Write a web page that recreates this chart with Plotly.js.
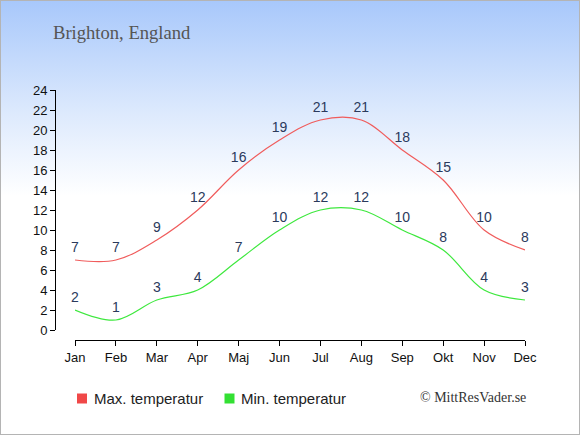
<!DOCTYPE html>
<html>
<head>
<meta charset="utf-8">
<script src="https://cdn.plot.ly/plotly-3.0.1.min.js"></script>
<style>
  html, body { margin: 0; padding: 0; }
  #wrap {
    width: 580px; height: 435px; box-sizing: border-box;
    border: 1px solid #b4b4b4;
    background: linear-gradient(to bottom, #a8c8fb 0px, #dce9fd 110px, #ffffff 195px, #ffffff 435px);
    position: relative; overflow: hidden;
  }
  #chart { position: absolute; left: -1px; top: -1px; width: 580px; height: 435px; }
</style>
</head>
<body>
<div id="wrap"><div id="chart"></div></div>
<script>
const months = ["Jan","Feb","Mar","Apr","Maj","Jun","Jul","Aug","Sep","Okt","Nov","Dec"];
const maxTemp = [7, 7, 9, 12, 16, 19, 21, 21, 18, 15, 10, 8];
const minTemp = [2, 1, 3, 4, 7, 10, 12, 12, 10, 8, 4, 3];
const yTicks = [0,2,4,6,8,10,12,14,16,18,20,22,24];
const titleText = "Brighton, England";
const maxName = "Max. temperatur";
const minName = "Min. temperatur";
const credit = "© MittResVader.se";

const idx = months.map((m, i) => i);
const labelFont = {family: "Liberation Sans, Arial, sans-serif", size: 14, color: "#2b3a5c"};
const hiddenMarker = {size: 5, color: "rgba(0,0,0,0)"};

const traces = [
  {x: idx, y: maxTemp, mode: "lines+markers+text", text: maxTemp.map(String), textposition: "top center",
   textfont: labelFont, cliponaxis: false, marker: hiddenMarker,
   line: {color: "#f05c5c", width: 1.2, shape: "spline"},
   showlegend: false, hoverinfo: "skip"},
  {x: idx, y: minTemp, mode: "lines+markers+text", text: minTemp.map(String), textposition: "top center",
   textfont: labelFont, cliponaxis: false, marker: hiddenMarker,
   line: {color: "#3ee83e", width: 1.2, shape: "spline"},
   showlegend: false, hoverinfo: "skip"}
];

const tickFont = {family: "Liberation Sans, Arial, sans-serif", size: 13, color: "#111"};

const plotL = 55, plotR = 580 - 55, plotT = 90, plotB = 435 - 95;
function px2paperX(px) { return (px - plotL) / (plotR - plotL); }
function px2paperY(py) { return (plotB - py) / (plotB - plotT); }

const layout = {
  width: 580, height: 435,
  margin: {l: plotL, r: 580 - plotR, t: plotT, b: 435 - plotB, pad: 0},
  paper_bgcolor: "rgba(0,0,0,0)",
  plot_bgcolor: "rgba(0,0,0,0)",
  showlegend: false,
  xaxis: {
    domain: [20/470, 1], range: [0, 11], anchor: "free", position: 0,
    tickmode: "array", tickvals: idx, ticktext: months,
    showgrid: false, zeroline: false, showline: true, linecolor: "#000", linewidth: 1,
    ticks: "outside", ticklen: 5, tickcolor: "#000", tickfont: tickFont, fixedrange: true
  },
  yaxis: {
    domain: [10/250, 1], range: [0, 24], anchor: "free", position: 0,
    tickmode: "array", tickvals: yTicks,
    showgrid: false, zeroline: false, showline: true, linecolor: "#000", linewidth: 1,
    ticks: "outside", ticklen: 5, tickcolor: "#000", tickfont: tickFont, fixedrange: true
  },
  annotations: [
    {text: titleText, xref: "paper", yref: "paper", x: px2paperX(51), y: px2paperY(32.5),
     xanchor: "left", yanchor: "middle", showarrow: false,
     font: {family: "Liberation Serif, Times New Roman, serif", size: 18.6, color: "#555"}},
    {text: maxName, xref: "paper", yref: "paper", x: px2paperX(92), y: px2paperY(398.5),
     xanchor: "left", yanchor: "middle", showarrow: false,
     font: {family: "Liberation Sans, Arial, sans-serif", size: 15, color: "#222"}},
    {text: minName, xref: "paper", yref: "paper", x: px2paperX(239), y: px2paperY(398.5),
     xanchor: "left", yanchor: "middle", showarrow: false,
     font: {family: "Liberation Sans, Arial, sans-serif", size: 15, color: "#222"}},
    {text: credit, xref: "paper", yref: "paper", x: px2paperX(528), y: px2paperY(397.5),
     xanchor: "right", yanchor: "middle", showarrow: false,
     font: {family: "Liberation Serif, Times New Roman, serif", size: 14, color: "#333"}}
  ],
  shapes: [
    {type: "rect", xref: "paper", yref: "paper", x0: px2paperX(77), x1: px2paperX(87),
     y0: px2paperY(403.5), y1: px2paperY(393.5), fillcolor: "#f04848", line: {width: 0}},
    {type: "rect", xref: "paper", yref: "paper", x0: px2paperX(224.5), x1: px2paperX(234.5),
     y0: px2paperY(403.5), y1: px2paperY(393.5), fillcolor: "#33e033", line: {width: 0}}
  ]
};

Plotly.newPlot("chart", traces, layout, {displayModeBar: false, staticPlot: true});
</script>
</body>
</html>
